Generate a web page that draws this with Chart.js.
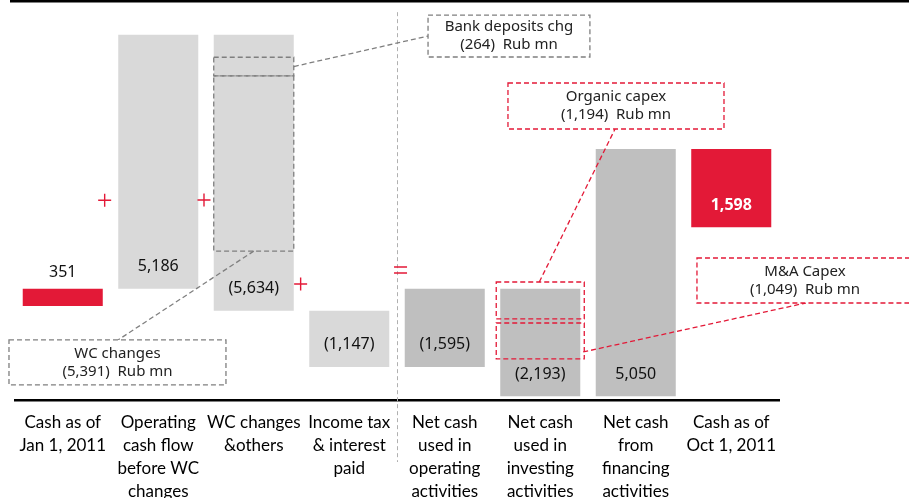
<!DOCTYPE html>
<html>
<head>
<meta charset="utf-8">
<script src="https://cdn.jsdelivr.net/npm/chart.js@4"></script>
<style>
    html, body { margin: 0; padding: 0; background: #fff; }
    #wrap { width: 909px; height: 498px; position: relative; }
</style>
</head>
<body>
<div id="wrap"><canvas id="cashChart"></canvas></div>
<script>
const categories = [
    ['Cash as of', 'Jan 1, 2011'],
    ['Operating', 'cash flow', 'before WC', 'changes'],
    ['WC changes', '&others'],
    ['Income tax', '& interest', 'paid'],
    ['Net cash', 'used in', 'operating', 'activities'],
    ['Net cash', 'used in', 'investing', 'activities'],
    ['Net cash', 'from', 'financing', 'activities'],
    ['Cash as of', 'Oct 1, 2011']
];

// Rub mn
const flows = [351, 5186, -5634, -1147, -1595, -2193, 5050, 1598];
// level each bar hangs from (its lower end)
const bases = [0, 351, -97, -1244, -1244, -1842, -1842, 1610];

const RED = '#e31937';
const barColors = [RED, '#d9d9d9', '#d9d9d9', '#d9d9d9', '#bfbfbf', '#bfbfbf', '#bfbfbf', RED];

const yMin = -1920;
const yMax = 6208;

// highlighted slices inside bars: [category, from, to]
const sliceBoxes = [
    { cat: 2, from: 4700, to: 5080, color: '#7f7f7f', pad: 0 },
    { cat: 2, from: 1120, to: 4700, color: '#7f7f7f', pad: 0 },
    { cat: 5, from: -265, to: 490, color: RED, pad: 4 },
    { cat: 5, from: -1082, to: -347, color: RED, pad: 4 }
];

// callout boxes (x in category units, y in Rub mn)
const callouts = [
    { lines: ['Bank deposits chg', '(264)  Rub mn'], color: '#7f7f7f', x0: 3.825, x1: 5.52, y0: 5942, y1: 5085,
      from: [2.42, 4890], to: [3.825, 5513] },
    { lines: ['Organic capex', '(1,194)  Rub mn'], color: RED, x0: 4.662, x1: 6.924, y0: 4554, y1: 3614,
      from: [4.99, 490], to: [5.783, 3614] },
    { lines: ['M&A Capex', '(1,049)  Rub mn'], color: RED, x0: 6.641, x1: 8.9, y0: 980, y1: 61,
      from: [5.45, -939], to: [7.78, 61] },
    { lines: ['WC changes', '(5,391)  Rub mn'], color: '#7f7f7f', x0: -0.563, x1: 1.709, y0: -694, y1: -1613,
      from: [2.0, 1120], to: [0.578, -694] }
];

const pluses = [[0.439, 2158], [1.479, 2164], [2.491, 449]];
const equalsSign = [3.537, 735];

const fmt = (v) => {
    const s = Math.abs(v).toLocaleString('en-US');
    return v < 0 ? '(' + s + ')' : s;
};

const overlayPlugin = {
    id: 'overlay',
    afterDatasetsDraw(chart) {
        const ctx = chart.ctx;
        const xs = chart.scales.x;
        const ys = chart.scales.y;
        const px = (i) => xs.getPixelForValue(i);
        const py = (v) => ys.getPixelForValue(v);
        const bars = chart.getDatasetMeta(0).data;

        ctx.save();

        // rule across the top
        ctx.fillStyle = '#000';
        ctx.fillRect(10, 0, chart.width - 10, 2.5);

        // divider between components and totals
        ctx.strokeStyle = '#b0b0b0';
        ctx.lineWidth = 1;
        ctx.setLineDash([4, 3]);
        ctx.beginPath();
        ctx.moveTo(Math.round(px(3.505)) + 0.5, py(6000));
        ctx.lineTo(Math.round(px(3.505)) + 0.5, chart.chartArea.bottom + 62);
        ctx.stroke();

        // value labels
        ctx.setLineDash([]);
        ctx.textAlign = 'center';
        ctx.textBaseline = 'middle';
        flows.forEach((v, i) => {
            const bar = bars[i];
            const bottom = py(bases[i]);
            if (i === flows.length - 1) {
                ctx.font = 'bold 16px "Noto Sans"';
                ctx.fillStyle = '#fff';
            } else {
                ctx.font = '16px "Noto Sans"';
                ctx.fillStyle = '#111';
            }
            const y = i === 0 ? bottom - 34 : bottom - 22;
            ctx.fillText(fmt(v), bar.x, y);
        });

        // connectors
        ctx.lineWidth = 1.3;
        ctx.setLineDash([5, 3]);
        callouts.forEach(c => {
            ctx.strokeStyle = c.color;
            ctx.beginPath();
            ctx.moveTo(px(c.from[0]), py(c.from[1]));
            ctx.lineTo(px(c.to[0]), py(c.to[1]));
            ctx.stroke();
        });

        // dashed slices inside bars
        sliceBoxes.forEach(b => {
            const bar = bars[b.cat];
            const half = bar.width / 2 + b.pad;
            ctx.strokeStyle = b.color;
            ctx.strokeRect(bar.x - half, py(b.to), half * 2, py(b.from) - py(b.to));
        });

        // callout boxes
        callouts.forEach(c => {
            const x0 = px(c.x0), x1 = px(c.x1), y0 = py(c.y0), y1 = py(c.y1);
            ctx.fillStyle = '#fff';
            ctx.fillRect(x0, y0, x1 - x0, y1 - y0);
            ctx.strokeStyle = c.color;
            ctx.strokeRect(x0, y0, x1 - x0, y1 - y0);
            ctx.fillStyle = '#222';
            ctx.font = '15px "Noto Sans"';
            const cx = (x0 + x1) / 2;
            const mid = (y0 + y1) / 2;
            const cxText = c.x1 > 8 ? px(c.x0) + 108 : cx;
            ctx.fillText(c.lines[0], cxText, mid - 9);
            ctx.fillText(c.lines[1], cxText, mid + 9);
        });

        // + and = signs
        ctx.setLineDash([]);
        ctx.strokeStyle = RED;
        ctx.lineWidth = 1.4;
        pluses.forEach(([i, v]) => {
            const x = px(i), y = py(v);
            ctx.beginPath();
            ctx.moveTo(x - 6.5, y);
            ctx.lineTo(x + 6.5, y);
            ctx.moveTo(x, y - 6.5);
            ctx.lineTo(x, y + 6.5);
            ctx.stroke();
        });
        const ex = px(equalsSign[0]), ey = py(equalsSign[1]);
        ctx.beginPath();
        ctx.moveTo(ex - 6.5, ey - 3);
        ctx.lineTo(ex + 6.5, ey - 3);
        ctx.moveTo(ex - 6.5, ey + 3);
        ctx.lineTo(ex + 6.5, ey + 3);
        ctx.stroke();

        ctx.restore();
    }
};

new Chart(document.getElementById('cashChart').getContext('2d'), {
    type: 'bar',
    data: {
        labels: categories,
        datasets: [{
            data: flows.map((v, i) => [bases[i], bases[i] + Math.abs(v)]),
            backgroundColor: barColors,
            borderWidth: 0,
            barPercentage: 0.838,
            categoryPercentage: 1
        }]
    },
    options: {
        responsive: true,
        maintainAspectRatio: false,
        animation: false,
        layout: { padding: { left: 15, right: 130, top: 2, bottom: 0 } },
        plugins: {
            legend: { display: false },
            tooltip: { enabled: false }
        },
        scales: {
            x: {
                grid: { display: false, drawTicks: false },
                border: { display: true, color: '#000', width: 2.5 },
                ticks: {
                    autoSkip: false,
                    maxRotation: 0,
                    minRotation: 0,
                    padding: 11,
                    color: '#000',
                    font: { family: 'Lato', size: 17, lineHeight: 1.35 }
                },
                afterFit(scale) { scale.height = 98; }
            },
            y: {
                display: false,
                min: yMin,
                max: yMax
            }
        }
    },
    plugins: [overlayPlugin]
});
</script>
</body>
</html>
